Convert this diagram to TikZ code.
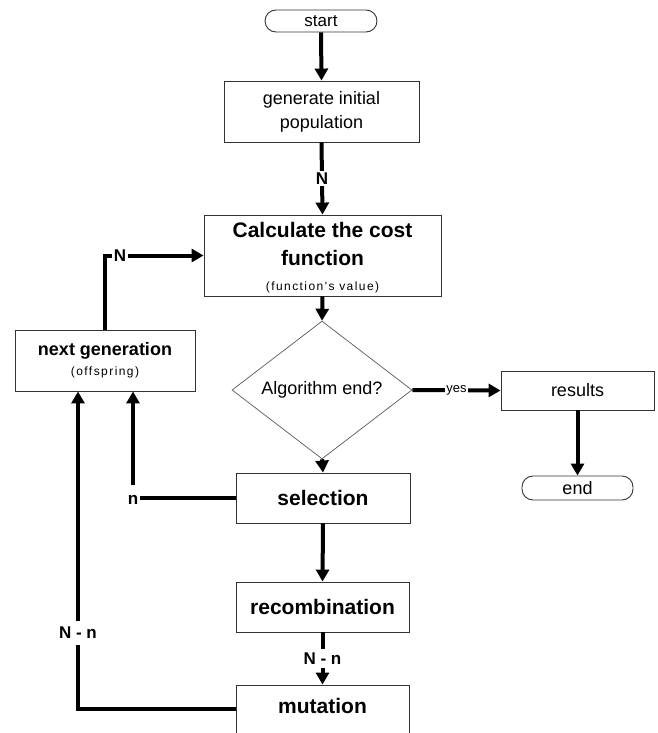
\documentclass[tikz,border=0pt]{standalone}
\usepackage{fontspec}
\setmainfont{Liberation Sans}
\newfontfamily\widefont[LetterSpace=12]{Liberation Sans}
\usetikzlibrary{arrows.meta,shapes.geometric}
\newcommand\setpx[2]{\fontsize{#1}{#2}\selectfont}

\begin{document}
\begin{tikzpicture}[x=1pt,y=-1pt,
  box/.style={draw=black!80, line width=0.9pt, inner sep=0pt, align=center},
  term/.style={box, rounded corners=11pt},
  flow/.style={line width=4pt, -{Triangle[width=13pt,length=12pt]}},
  lab/.style={fill=white, inner sep=2pt, font=\bfseries\setpx{17}{17}},
  small/.style={font=\setpx{13}{13}}]

\useasboundingbox (0,0) rectangle (657,733);
\clip (0,0) rectangle (657,733);

% main column
\node[term, minimum width=112pt, minimum height=22pt, font=\setpx{17}{17}] (start) at (321,21) {start};
\node[box, minimum width=195pt, minimum height=61pt, font=\setpx{18}{24}] (gen) at (321.5,111.5)
  {generate initial\\population};
\node[box, minimum width=237pt, minimum height=81pt, font=\bfseries\setpx{21}{28}] (calc) at (322.5,255.5)
  {\rule{0pt}{19pt}Calculate the cost\\function\\[-3pt]{\mdseries\widefont\setpx{12}{13}(function's value)}};
\node[diamond, draw=black!65, line width=0.7pt, inner sep=0pt, minimum width=180pt, minimum height=86pt,
  font=\setpx{18}{18}] (test) at (322,390) {Algorithm end?};
\node[box, minimum width=174pt, minimum height=50pt, font=\bfseries\setpx{21}{21}] (selection) at (323,498) {selection};
\node[box, minimum width=173pt, minimum height=50pt, font=\bfseries\setpx{21}{21}] (recomb) at (322.5,607) {recombination};
\node[box, anchor=base, minimum width=173pt, text height=28pt, text depth=26pt, font=\bfseries\setpx{21}{21}]
  (mutation) at (322.5,713) {mutation};

% right branch
\node[box, minimum width=153pt, minimum height=39pt, font=\setpx{18}{18}] (results) at (577.5,390.5) {results};
\node[term, minimum width=111pt, minimum height=24pt, font=\setpx{18}{18}] (end) at (577.5,488) {end};

% left feedback box
\node[box, minimum width=180pt, minimum height=61pt, font=\setpx{18}{20}] (nextgen) at (105,360.5)
  {{\bfseries next generation}\\{\widefont\setpx{12}{14}(offspring)}};

% connectors
\draw[flow] (start.south) -- (gen.north);
\draw[flow] (gen.south) -- node[lab]{N} (calc.north);
\draw[flow] (calc.south) -- (test.north);
\draw[flow] (test.east) -- node[lab, small, inner sep=1pt]{yes} (results.west);
\draw[flow] (results.south) -- (end.north);
\draw[flow] (test.south) -- (selection.north);
\draw[flow] (selection.south) -- (recomb.north);
\draw[flow] (recomb.south) -- node[lab, inner ysep=4pt]{N - n} (mutation.north);
\draw[flow] (nextgen.north) |- node[lab, pos=0.576]{N} (calc.west);
\draw[flow] (selection.west) -| node[lab, pos=0.5, anchor=base, text height=17pt, yshift=-6pt]{n}
  ([xshift=28pt]nextgen.south);
\draw[flow] ([yshift=3pt]mutation.west) -| node[lab, pos=0.62, inner ysep=6pt]{N - n}
  ([xshift=-27pt]nextgen.south);
\end{tikzpicture}
\end{document}
